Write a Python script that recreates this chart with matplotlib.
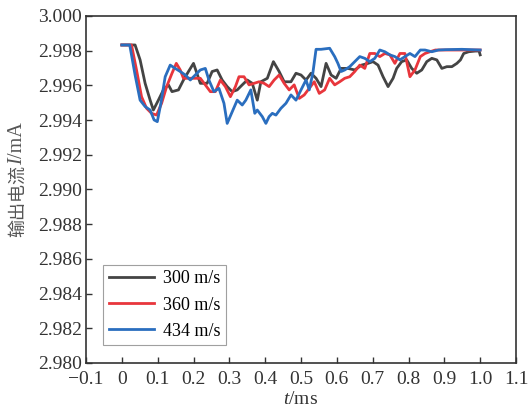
import matplotlib
matplotlib.use("Agg")
import matplotlib.pyplot as plt

plt.rcParams['font.family'] = ['Liberation Serif', 'Noto Sans CJK SC', 'DejaVu Sans']
plt.rcParams['mathtext.fontset'] = 'custom'
plt.rcParams['mathtext.rm'] = 'Liberation Serif'
plt.rcParams['mathtext.it'] = 'Liberation Serif:italic'

# 300 m/s
t_300 = [0, 0.037, 0.051, 0.065, 0.079, 0.088, 0.102, 0.116, 0.130, 0.140, 0.158, 0.172,
         0.186, 0.200, 0.219, 0.238, 0.252, 0.266, 0.280, 0.294, 0.308, 0.322, 0.336, 0.350,
         0.364, 0.378, 0.388, 0.406, 0.423, 0.439, 0.453, 0.472, 0.486, 0.500, 0.514, 0.528,
         0.542, 0.556, 0.570, 0.584, 0.598, 0.612, 0.631, 0.650, 0.669, 0.687, 0.701, 0.715,
         0.729, 0.743, 0.757, 0.767, 0.781, 0.795, 0.809, 0.823, 0.837, 0.851, 0.865, 0.879,
         0.893, 0.907, 0.921, 0.935, 0.945, 0.954, 0.968, 0.987, 0.997, 1.0]
i_300 = [2.99833, 2.99833, 2.99747, 2.99612, 2.99515, 2.99458, 2.99515, 2.99574, 2.99603,
         2.99564, 2.99574, 2.99631, 2.99680, 2.99727, 2.99612, 2.99612, 2.99680, 2.99689,
         2.99631, 2.99593, 2.99564, 2.99574, 2.99603, 2.99631, 2.99612, 2.99515, 2.99621,
         2.99641, 2.99737, 2.99680, 2.99621, 2.99621, 2.99670, 2.99660, 2.99631, 2.99670,
         2.99641, 2.99593, 2.99727, 2.99660, 2.99641, 2.99698, 2.99698, 2.99689, 2.99717,
         2.99727, 2.99737, 2.99717, 2.99650, 2.99593, 2.99641, 2.99698, 2.99737, 2.99747,
         2.99698, 2.99670, 2.99689, 2.99737, 2.99756, 2.99747, 2.99698, 2.99708, 2.99708,
         2.99727, 2.99747, 2.99784, 2.99794, 2.99798, 2.99798, 2.99776]

# 360 m/s
t_360 = [0, 0.027, 0.041, 0.055, 0.069, 0.083, 0.097, 0.111, 0.125, 0.140, 0.152, 0.163,
         0.172, 0.186, 0.200, 0.219, 0.233, 0.247, 0.261, 0.275, 0.289, 0.303, 0.317, 0.327,
         0.341, 0.355, 0.369, 0.383, 0.397, 0.411, 0.425, 0.439, 0.453, 0.467, 0.481, 0.495,
         0.509, 0.523, 0.537, 0.551, 0.566, 0.580, 0.594, 0.608, 0.622, 0.636, 0.650, 0.664,
         0.678, 0.692, 0.706, 0.720, 0.734, 0.748, 0.762, 0.776, 0.790, 0.804, 0.818, 0.833,
         0.846, 0.860, 0.875, 0.893, 0.921, 0.968, 1.0]
i_360 = [2.99833, 2.99833, 2.99689, 2.99535, 2.99468, 2.99439, 2.99429, 2.99497, 2.99593,
         2.99670, 2.99727, 2.99689, 2.99641, 2.99641, 2.99641, 2.99641, 2.99603, 2.99564,
         2.99564, 2.99631, 2.99593, 2.99535, 2.99593, 2.99650, 2.99650, 2.99603, 2.99612,
         2.99621, 2.99612, 2.99593, 2.99631, 2.99660, 2.99612, 2.99574, 2.99603, 2.99525,
         2.99545, 2.99583, 2.99621, 2.99554, 2.99574, 2.99641, 2.99603, 2.99621, 2.99641,
         2.99650, 2.99680, 2.99717, 2.99698, 2.99784, 2.99784, 2.99766, 2.99784, 2.99776,
         2.99727, 2.99784, 2.99784, 2.99650, 2.99689, 2.99766, 2.99784, 2.99794, 2.99804,
         2.99804, 2.99804, 2.99804, 2.99804]

# 434 m/s
t_434 = [0, 0.022, 0.037, 0.051, 0.065, 0.079, 0.090, 0.099, 0.109, 0.121, 0.135, 0.149,
         0.163, 0.177, 0.191, 0.205, 0.219, 0.233, 0.243, 0.257, 0.271, 0.285, 0.294, 0.308,
         0.322, 0.336, 0.346, 0.360, 0.371, 0.378, 0.392, 0.402, 0.411, 0.420, 0.430, 0.444,
         0.458, 0.472, 0.486, 0.500, 0.514, 0.523, 0.533, 0.542, 0.556, 0.580, 0.594, 0.603,
         0.612, 0.622, 0.636, 0.650, 0.664, 0.678, 0.692, 0.706, 0.720, 0.734, 0.748, 0.762,
         0.776, 0.790, 0.804, 0.818, 0.833, 0.846, 0.865, 0.884, 0.903, 0.949, 1.0]
i_434 = [2.99833, 2.99833, 2.99660, 2.99515, 2.99478, 2.99458, 2.99401, 2.99391, 2.99497,
         2.99650, 2.99717, 2.99698, 2.99680, 2.99660, 2.99631, 2.99660, 2.99689, 2.99698,
         2.99631, 2.99564, 2.99583, 2.99497, 2.99381, 2.99448, 2.99515, 2.99487, 2.99515,
         2.99574, 2.99439, 2.99458, 2.99420, 2.99381, 2.99420, 2.99439, 2.99429, 2.99468,
         2.99497, 2.99545, 2.99515, 2.99574, 2.99631, 2.99574, 2.99670, 2.99808, 2.99808,
         2.99814, 2.99766, 2.99727, 2.99680, 2.99689, 2.99708, 2.99737, 2.99766, 2.99756,
         2.99737, 2.99756, 2.99804, 2.99794, 2.99776, 2.99766, 2.99747, 2.99766, 2.99784,
         2.99766, 2.99804, 2.99804, 2.99794, 2.99804, 2.99806, 2.99808, 2.99804]

labels = ['300 m/s', '360 m/s', '434 m/s']
colors = ['#444444', '#e8363c', '#2a6ebf']

x_ticks = [-0.1, 0, 0.1, 0.2, 0.3, 0.4, 0.5, 0.6, 0.7, 0.8, 0.9, 1.0, 1.1]
x_tick_labels = ['\u22120.1', '0', '0.1', '0.2', '0.3', '0.4', '0.5', '0.6', '0.7',
                 '0.8', '0.9', '1.0', '1.1']
y_ticks = [2.980, 2.982, 2.984, 2.986, 2.988, 2.990, 2.992, 2.994, 2.996, 2.998, 3.000]

W, H = 531, 412
fig = plt.figure(figsize=(W / 100, H / 100), dpi=100)
ax = fig.add_axes([86 / W, 1 - 363 / H, 430 / W, 347 / H])

for t, cur, lab, col in zip([t_300, t_360, t_434], [i_300, i_360, i_434], labels, colors):
    ax.plot(t, cur, color=col, lw=2.0, label=lab)

ax.set_xlim(-0.1, 1.1)
ax.set_ylim(2.980, 3.000)
ax.set_xticks(x_ticks)
ax.set_xticklabels(x_tick_labels)
ax.set_yticks(y_ticks)
ax.set_yticklabels([f'{v:.3f}' for v in y_ticks])
ax.tick_params(direction='in', length=4.5, width=1.0, labelsize=14,
               labelcolor='#333333', color='#333333')
ax.tick_params(axis='x', pad=6)
ax.tick_params(axis='y', pad=3)
for s in ax.spines.values():
    s.set_linewidth(1.2)
    s.set_color('#333333')

ax.set_xlabel('$t$/ms', fontsize=14, color='#333333', labelpad=2)

# y label: CJK part + italic I + /mA, stacked bottom to top
fig.canvas.draw()
renderer = fig.canvas.get_renderer()
y_pos = 1 - 237 / H
x_pos = 18 / W
parts = [('输出电流', dict(family=['Noto Sans CJK SC'], fontsize=13)),
         ('I', dict(family=['Liberation Serif'], style='italic', fontsize=14.5)),
         ('/mA', dict(family=['Liberation Serif'], fontsize=14.5))]
for txt, kw in parts:
    tx = fig.text(x_pos, y_pos, txt, rotation=90, ha='center', va='bottom',
                  color='#555555', **kw)
    bb = tx.get_window_extent(renderer)
    y_pos += bb.height / H

leg = ax.legend(loc='lower left', bbox_to_anchor=(0.040, 0.052), borderaxespad=0,
                fontsize=13, frameon=True, fancybox=False, handlelength=2.5,
                handletextpad=0.5, borderpad=0.3, labelspacing=0.5)
leg.get_frame().set_edgecolor('#888888')
leg.get_frame().set_linewidth(0.8)

fig.savefig('out.png', dpi=100)
